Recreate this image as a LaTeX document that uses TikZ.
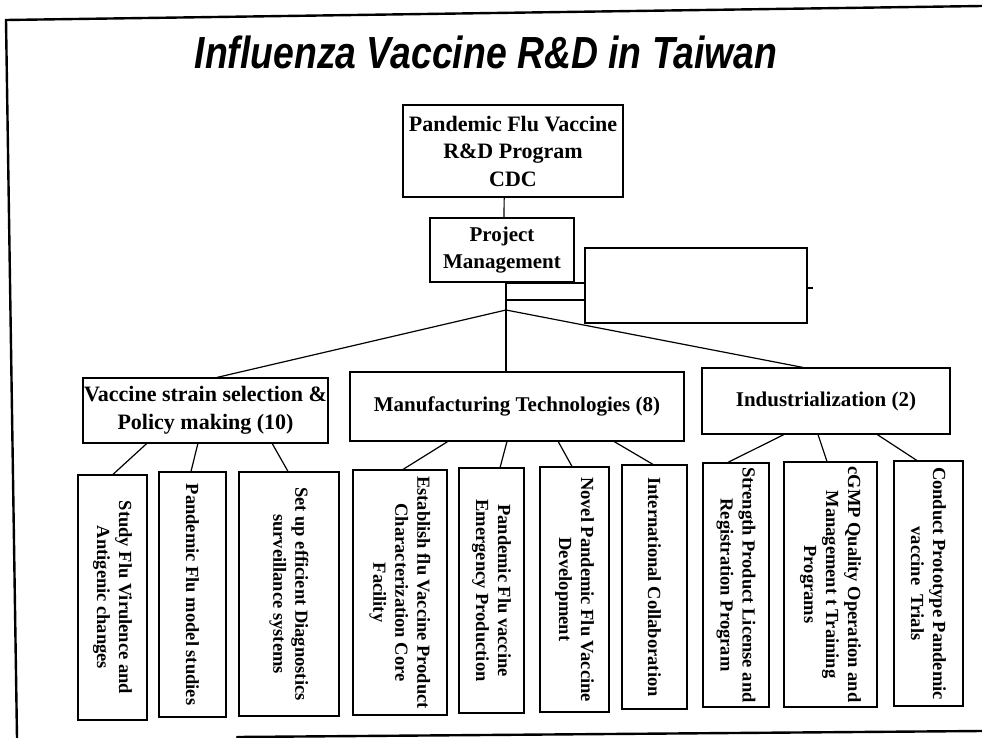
\documentclass[tikz,border=0pt]{standalone}
\usepackage{fontspec}
\setmainfont{Liberation Serif}
\newfontfamily\headfont{Liberation Sans}
\usetikzlibrary{calc}

\tikzset{
  frameline/.style={line width=2.4pt, line cap=round},
  link/.style={line width=1.2pt},
  hbox/.style={draw, line width=1.2pt, inner sep=0pt, align=center,
    font=\bfseries\fontsize{21}{27}\selectfont},
  bigtext/.style={font=\bfseries\fontsize{22}{27.5}\selectfont},
  vbox/.style={draw, line width=1.2pt, inner sep=0pt},
  vtext/.style={rotate=-90, align=center, inner sep=0pt,
    font=\bfseries\fontsize{18.5}{22}\selectfont},
}

% connector from a point on the lower edge of #1 to a point on the upper edge of #3
\newcommand\edgelink[4]{%
  \draw[link] ($(#1.south west)!#2!(#1.south east)$) --
              ($(#3.north west)!#4!(#3.north east)$);}

\begin{document}
\begin{tikzpicture}[x=1pt, y=-1pt]
\useasboundingbox (0,0) rectangle (982,738);

% page frame
\coordinate (fTL) at (6,20);
\coordinate (fTR) at (982,6);
\coordinate (fBL) at (17,738);
\coordinate (fB1) at (237,737);
\coordinate (fB2) at (982,731);
\draw[frameline] (fTR) -- (fTL) -- (fBL);
\draw[frameline] (fB1) -- (fB2);

% title
\node[font=\headfont\bfseries\itshape\fontsize{45}{50}\selectfont, xscale=0.83]
  (title) at (486,52) {Influenza Vaccine R\&D in Taiwan};

% upper levels
\node[hbox, bigtext, minimum width=220, minimum height=92] (T) at (513,151)
  {Pandemic Flu Vaccine\\R\&D Program\\CDC};
\node[hbox, minimum width=144, minimum height=64] (PM) at (502,250)
  {Project\\Management};
\node[vbox, minimum width=222, minimum height=75] (E) at (696,285.5) {};

\node[hbox, bigtext, minimum width=245, minimum height=65] (V) at (205.5,410.5)
  {Vaccine strain selection \&\\Policy making (10)};
\node[hbox, minimum width=334, minimum height=69] (M) at (517,406.5)
  {Manufacturing Technologies (8)};
\node[hbox, minimum width=248, minimum height=66] (I) at (826,401)
  {Industrialization (2)};

% project boxes with vertical text
\node[vbox, minimum width=69,  minimum height=245] (b1)  at (112.5,597.5) {};
\node[vbox, minimum width=67,  minimum height=245] (b2)  at (192.5,594.5) {};
\node[vbox, minimum width=100, minimum height=244] (b3)  at (289,594) {};
\node[vbox, minimum width=94,  minimum height=245] (b4)  at (400,592.5) {};
\node[vbox, minimum width=65,  minimum height=245] (b5)  at (491.5,590.5) {};
\node[vbox, minimum width=69,  minimum height=245] (b6)  at (574.5,589.5) {};
\node[vbox, minimum width=65,  minimum height=244] (b7)  at (654.5,587) {};
\node[vbox, minimum width=66,  minimum height=244] (b8)  at (736,585) {};
\node[vbox, minimum width=93,  minimum height=245] (b9)  at (830.5,584.5) {};
\node[vbox, minimum width=69,  minimum height=245] (b10) at (928.5,583.5) {};

\node[vtext] (t1)  at (b1)  {Study Flu Virulence and\\Antigenic changes};
\node[vtext] (t2)  at (b2)  {Pandemic Flu model studies};
\node[vtext] (t3)  at (b3)  {Set up efficient Diagnostics\\surveillance systems};
\node[vtext] (t4)  at (b4)  {Establish flu Vaccine Product\\Characterization Core\\Facility};
\node[vtext] (t5)  at (b5)  {Pandemic Flu vaccine\\Emergency Production};
\node[vtext] (t6)  at (b6)  {Novel Pandemic Flu Vaccine\\Development};
\node[vtext] (t7)  at (b7)  {International Collaboration};
\node[vtext] (t8)  at (b8)  {Strength Product License and\\Registration Program};
\node[vtext] (t9)  at (b9)  {cGMP Quality Operation and\\Management t Training\\Programs};
\node[vtext] (t10) at (b10) {Conduct Prototype Pandemic\\vaccine\ \ Trials};

% connectors
\edgelink{T}{0.46}{PM}{0.514}
\coordinate (apex) at (506,310);
\draw[link] (PM.south -| apex) -- (apex) -- (M.north -| apex);
\coordinate (h1) at (506,283);
\coordinate (h2) at (506,300);
\draw[link] (h1) -- (h1 -| E.west);
\draw[link] (h2) -- (h2 -| E.west);
\coordinate (tick) at (813,288);
\draw[link] (tick -| E.east) -- (tick);
\draw[link] (apex) -- ($(V.north west)!0.547!(V.north east)$);
\draw[link] (apex) -- ($(I.north west)!0.407!(I.north east)$);

\edgelink{V}{0.261}{b1}{0.507}
\edgelink{V}{0.469}{b2}{0.478}
\edgelink{V}{0.771}{b3}{0.49}
\edgelink{M}{0.293}{b4}{0.532}
\edgelink{M}{0.47}{b5}{0.63}
\edgelink{M}{0.623}{b6}{0.464}
\edgelink{M}{0.79}{b7}{0.477}
\edgelink{I}{0.331}{b8}{0.379}
\edgelink{I}{0.468}{b9}{0.462}
\edgelink{I}{0.706}{b10}{0.333}
\end{tikzpicture}
\end{document}
